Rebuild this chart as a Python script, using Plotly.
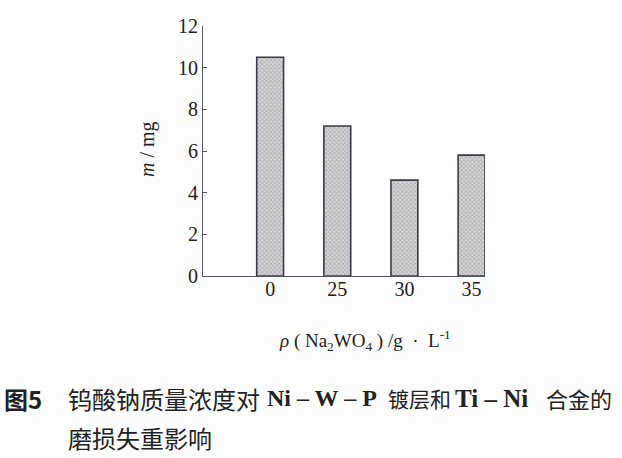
import plotly.graph_objects as go

# sodium tungstate concentration (g/L) vs wear mass loss (mg)
conc = ['0', '25', '30', '35']
mass_loss = [10.5, 7.2, 4.6, 5.8]
y_ticks = [0, 2, 4, 6, 8, 10, 12]

serif = 'Liberation Serif, Times New Roman, serif'
cjk = 'Noto Sans CJK SC, sans-serif'
ink = '#222222'
nb = '\u00a0'

fig = go.Figure()
fig.add_trace(go.Bar(
    x=conc, y=mass_loss, width=0.4,
    marker=dict(
        color='#cccccc',
        line=dict(color='#3a3a4a', width=1.6),
        pattern=dict(shape='x', size=3, solidity=0.5,
                     fgcolor='#888888', bgcolor='#dadada', fillmode='overlay'),
    ),
    showlegend=False,
))

fig.update_xaxes(
    type='category', range=[-1, 3.2],
    showline=True, linecolor='#555566', linewidth=1.2,
    ticks='', showgrid=False, zeroline=False,
    ticklabelstandoff=-5,
    tickfont=dict(family=serif, size=20, color=ink),
)
fig.update_yaxes(
    range=[0, 12], tickvals=y_ticks,
    showline=True, linecolor='#555566', linewidth=1.2,
    ticks='inside', ticklen=4, tickcolor='#555566',
    showgrid=False, zeroline=False,
    tickfont=dict(family=serif, size=20, color=ink),
)

# texts placed in pixel terms relative to the plot area (203..485 x, 26..276 y)
def px(x):
    return (x - 203) / 282.0

def py(y):
    return (276 - y) / 250.0

xtitle = ('<i>ρ</i>' + nb + '(' + nb + 'Na<sub>2</sub>WO<sub>4</sub>' + nb + ')' + nb
          + '/g' + nb * 2 + '·' + nb * 2 + 'L<sup>-1</sup>')

notes = [
    dict(text='<i>m</i> / mg', x=px(147), y=py(149), textangle=-90,
         font=dict(family=serif, size=20, color=ink), xanchor='center'),
    dict(text=xtitle, x=px(277), y=py(340),
         font=dict(family=serif, size=19, color=ink), xanchor='left'),
    dict(text='<b>图5</b>', x=px(2), y=py(398),
         font=dict(family=cjk, size=24, color=ink), xanchor='left'),
    dict(text='钨酸钠质量浓度对', x=px(66), y=py(398),
         font=dict(family=cjk, size=24, color=ink), xanchor='left'),
    dict(text='<b>Ni – W – P</b>', x=px(265), y=py(398),
         font=dict(family=serif, size=24, color=ink), xanchor='left'),
    dict(text='镀层和', x=px(386), y=py(398),
         font=dict(family=cjk, size=21, color=ink), xanchor='left'),
    dict(text='<b>Ti' + nb + '–' + nb + 'Ni</b>', x=px(453), y=py(398),
         font=dict(family=serif, size=25, color=ink), xanchor='left'),
    dict(text='合金的', x=px(614), y=py(398),
         font=dict(family=cjk, size=22, color=ink), xanchor='right'),
    dict(text='磨损失重影响', x=px(66), y=py(437),
         font=dict(family=cjk, size=24, color=ink), xanchor='left'),
]
for n in notes:
    fig.add_annotation(xref='paper', yref='paper', showarrow=False,
                       yanchor='middle', **n)

fig.update_layout(
    width=622, height=458,
    margin=dict(l=203, r=137, t=26, b=182),
    paper_bgcolor='#fdfdfd', plot_bgcolor='#fdfdfd',
)

fig.write_html("out.html", config={'displayModeBar': False},
               post_script="document.body.style.margin='0';")
